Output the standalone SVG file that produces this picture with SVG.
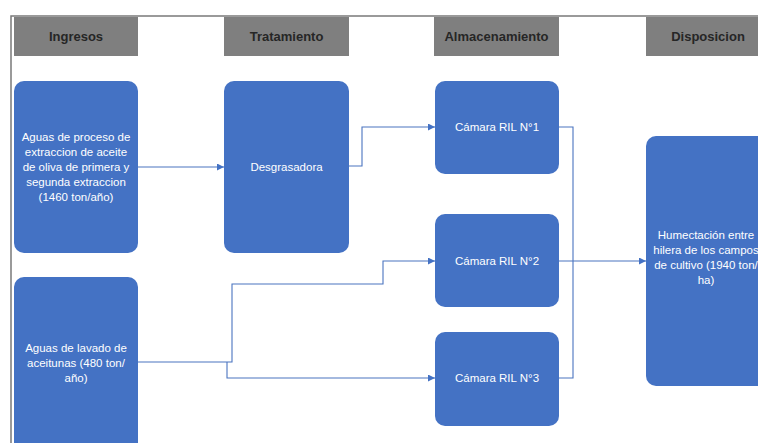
<svg xmlns="http://www.w3.org/2000/svg" width="758" height="443" viewBox="0 0 758 443">
  <style>
    .hdr { fill: #7f7f7f; }
    .hdrt { font-family: "Liberation Sans", Arial, sans-serif; font-size: 13px; font-weight: bold; fill: #262626; text-anchor: middle; }
    .node { fill: #4472c4; }
    .nt { font-family: "Liberation Sans", Arial, sans-serif; font-size: 11.5px; fill: #ffffff; text-anchor: middle; }
    .frame { stroke: #7a7a7a; stroke-width: 1.5; fill: none; }
    .conn { stroke: #4a74c0; stroke-width: 1.1; fill: none; }
  </style>
  <defs>
    <marker id="arrow" viewBox="0 0 10 10" refX="10" refY="5" markerWidth="7" markerHeight="7" markerUnits="userSpaceOnUse" orient="auto">
      <path d="M0,0 L10,5 L0,10 z" fill="#4472c4"/>
    </marker>
  </defs>
  <rect width="758" height="443" fill="#ffffff"/>

  <!-- frame -->
  <path class="frame" d="M11,443 V16 H758"/>

  <!-- headers -->
  <g id="hdr-ingresos">
    <rect class="hdr" x="14" y="17" width="124" height="39"/>
    <text class="hdrt" x="76" y="41">Ingresos</text>
  </g>
  <g id="hdr-tratamiento">
    <rect class="hdr" x="224" y="17" width="125" height="39"/>
    <text class="hdrt" x="286.5" y="41">Tratamiento</text>
  </g>
  <g id="hdr-almacenamiento">
    <rect class="hdr" x="434" y="17" width="125" height="39"/>
    <text class="hdrt" x="496.5" y="41">Almacenamiento</text>
  </g>
  <g id="hdr-disposicion">
    <rect class="hdr" x="646" y="17" width="124" height="39"/>
    <text class="hdrt" x="708" y="41">Disposicion</text>
  </g>

  <!-- connectors -->
  <g id="connectors">
    <path class="conn" d="M138,167 H224" marker-end="url(#arrow)"/>
    <path class="conn" d="M349,166 H362 V127 H435" marker-end="url(#arrow)"/>
    <path class="conn" d="M138,362 H232 V284 H383 V261 H435" marker-end="url(#arrow)"/>
    <path class="conn" d="M227,362 V378 H435" marker-end="url(#arrow)"/>
    <path class="conn" d="M559,127 H573 V378 H559"/>
    <path class="conn" d="M559,261 H646" marker-end="url(#arrow)"/>
  </g>

  <!-- nodes -->
  <g id="aguas-proceso">
    <rect class="node" x="14" y="81" width="124" height="172" rx="10"/>
    <text class="nt" x="76" y="141">Aguas de proceso de</text>
    <text class="nt" x="76" y="156">extraccion de aceite</text>
    <text class="nt" x="76" y="171">de oliva de primera y</text>
    <text class="nt" x="76" y="186">segunda extraccion</text>
    <text class="nt" x="76" y="201">(1460 ton/año)</text>
  </g>
  <g id="desgrasadora">
    <rect class="node" x="224" y="81" width="125" height="172" rx="10"/>
    <text class="nt" x="286.5" y="171">Desgrasadora</text>
  </g>
  <g id="camara1">
    <rect class="node" x="435" y="81" width="124" height="93" rx="10"/>
    <text class="nt" x="497" y="131">Cámara RIL N°1</text>
  </g>
  <g id="camara2">
    <rect class="node" x="435" y="214" width="124" height="93" rx="10"/>
    <text class="nt" x="497" y="265">Cámara RIL N°2</text>
  </g>
  <g id="camara3">
    <rect class="node" x="435" y="332" width="124" height="94" rx="10"/>
    <text class="nt" x="497" y="382">Cámara RIL N°3</text>
  </g>
  <g id="aguas-lavado">
    <rect class="node" x="14" y="277" width="124" height="180" rx="10"/>
    <text class="nt" x="76" y="352">Aguas de lavado de</text>
    <text class="nt" x="76" y="367">aceitunas (480 ton/</text>
    <text class="nt" x="76" y="382">año)</text>
  </g>
  <g id="humectacion">
    <rect class="node" x="646" y="136" width="124" height="250" rx="10"/>
    <text class="nt" x="706" y="239">Humectación entre</text>
    <text class="nt" x="706" y="254">hilera de los campos</text>
    <text class="nt" x="706" y="269">de cultivo (1940 ton/</text>
    <text class="nt" x="706" y="284">ha)</text>
  </g>
</svg>
